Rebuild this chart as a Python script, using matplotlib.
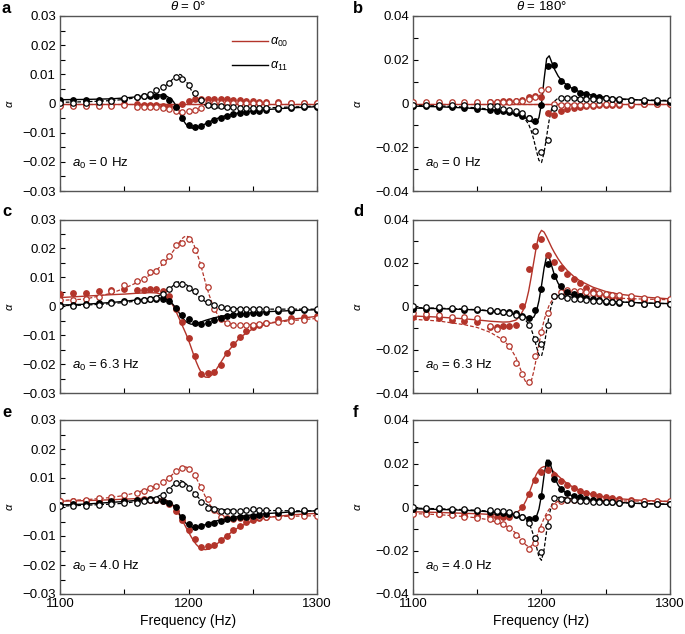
import matplotlib

matplotlib.use("Agg")

import matplotlib.pyplot as plt
from matplotlib.lines import Line2D
from matplotlib.ticker import FuncFormatter, MultipleLocator

plt.rcParams["font.family"] = ["Liberation Sans", "DejaVu Sans"]
plt.rcParams["mathtext.fontset"] = "custom"
plt.rcParams["mathtext.rm"] = "Liberation Sans"
plt.rcParams["mathtext.it"] = "Liberation Sans:italic"
plt.rcParams["mathtext.bf"] = "Liberation Sans:bold"

RED = "#b3342a"
BLACK = "#000000"

# measured frequencies (Hz)
F_MEAS = [1100, 1110, 1120, 1130, 1140, 1150, 1160, 1165, 1170, 1175, 1180, 1185,
          1190, 1195, 1200, 1205, 1210, 1215, 1220, 1225, 1230, 1235, 1240, 1245,
          1250, 1255, 1260, 1270, 1280, 1290, 1300]
# frequencies of the theory curves (Hz)
F_LINE = [1100, 1120, 1140, 1150, 1160, 1170, 1175, 1180, 1183, 1186, 1188, 1190,
          1192, 1194, 1196, 1198, 1200, 1202, 1204, 1206, 1208, 1210, 1213, 1216,
          1220, 1225, 1230, 1240, 1250, 1260, 1280, 1300]

# ---- panel a: theta = 0, a0 = 0 Hz
A_RED_FILLED = [-0.0004, -0.0004, -0.0004, -0.0004, -0.0004, -0.0003, -0.0003, -0.0004, -0.0005, -0.0006,
                -0.0008, -0.0010, -0.0011, -0.0002, 0.0008, 0.0014, 0.0016, 0.0016, 0.0016, 0.0015,
                0.0015, 0.0013, 0.0011, 0.0009, 0.0007, 0.0006, 0.0005, 0.0004, 0.0003, 0.0003, 0.0003]
A_RED_OPEN = [-0.0008, -0.0008, -0.0008, -0.0008, -0.0008, -0.0005, -0.0011, -0.0011, -0.0011, -0.0013,
              -0.0016, -0.0019, -0.0026, -0.0030, -0.0027, -0.0022, -0.0017, 0.0001, 0.0002, 0.0002,
              0.0002, 0.0002, 0.0002, 0.0002, 0.0002, 0.0002, 0.0002, 0.0002, 0.0002, 0.0002, 0.0002]
A_BLACK_FILLED = [0.0012, 0.0012, 0.0012, 0.0012, 0.0013, 0.0017, 0.0022, 0.0025, 0.0027, 0.0027,
                  0.0025, 0.0013, -0.0013, -0.0050, -0.0075, -0.0080, -0.0078, -0.0068, -0.0056, -0.0050,
                  -0.0043, -0.0037, -0.0033, -0.0030, -0.0027, -0.0025, -0.0023, -0.0020, -0.0016, -0.0013, -0.0011]
A_BLACK_OPEN = [0.0003, 0.0003, 0.0003, 0.0004, 0.0010, 0.0019, 0.0023, 0.0027, 0.0031, 0.0046,
                0.0056, 0.0071, 0.0092, 0.0084, 0.0064, 0.0036, 0.0012, -0.0005, -0.0007, -0.0009,
                -0.0011, -0.0013, -0.0015, -0.0016, -0.0017, -0.0017, -0.0016, -0.0015, -0.0013, -0.0010, -0.0009]
A_RED_SOLID = [-0.0002] * 32
A_RED_DASHED = [-0.0002] * 32
A_BLACK_SOLID = [0.0013, 0.0014, 0.0016, 0.0019, 0.0023, 0.0028, 0.0030, 0.0029, 0.0025, 0.0017, 0.0008,
                 -0.0005, -0.0022, -0.0040, -0.0058, -0.0071, -0.0079, -0.0084, -0.0085, -0.0084, -0.0081,
                 -0.0077, -0.0070, -0.0063, -0.0055, -0.0047, -0.0040, -0.0031, -0.0025, -0.0021, -0.0015, -0.0011]
A_BLACK_DASHED = [0.0004, 0.0006, 0.0010, 0.0014, 0.0020, 0.0030, 0.0040, 0.0054, 0.0064, 0.0076, 0.0085,
                  0.0094, 0.0100, 0.0099, 0.0091, 0.0078, 0.0063, 0.0047, 0.0032, 0.0019, 0.0009,
                  0.0001, -0.0006, -0.0010, -0.0014, -0.0016, -0.0017, -0.0017, -0.0016, -0.0015, -0.0012, -0.0009]

# ---- panel b: theta = 180, a0 = 0 Hz
B_RED_FILLED = [-0.0005, -0.0004, -0.0003, -0.0002, 0.0000, 0.0003, 0.0006, 0.0009, 0.0010, 0.0011,
                0.0013, 0.0017, 0.0030, 0.0034, 0.0030, -0.0045, -0.0051, -0.0035, -0.0026, -0.0020,
                -0.0015, -0.0012, -0.0010, -0.0009, -0.0008, -0.0007, -0.0006, -0.0005, -0.0004, -0.0003, -0.0003]
B_RED_OPEN = [0.0009, 0.0008, 0.0008, 0.0008, 0.0008, 0.0008, 0.0006, 0.0006, 0.0007, 0.0008,
              0.0010, 0.0013, 0.0022, 0.0032, 0.0062, 0.0066, 0.0000, -0.0007, -0.0008, -0.0007,
              -0.0006, -0.0005, -0.0005, -0.0004, -0.0004, -0.0003, -0.0003, -0.0003, -0.0002, -0.0001, 0.0000]
B_BLACK_FILLED = [-0.0012, -0.0013, -0.0015, -0.0017, -0.0020, -0.0024, -0.0031, -0.0033, -0.0036, -0.0040,
                  -0.0045, -0.0055, -0.0068, -0.0078, -0.0008, 0.0172, 0.0177, 0.0105, 0.0080, 0.0068,
                  0.0050, 0.0042, 0.0036, 0.0030, 0.0026, 0.0022, 0.0018, 0.0014, 0.0011, 0.0009, 0.0008]
B_BLACK_OPEN = [-0.0008, -0.0008, -0.0008, -0.0008, -0.0009, -0.0010, -0.0010, -0.0013, -0.0025, -0.0028,
                -0.0036, -0.0042, -0.0066, -0.0127, -0.0220, -0.0168, -0.0020, 0.0025, 0.0025, 0.0024,
                0.0021, 0.0020, 0.0019, 0.0018, 0.0025, 0.0020, 0.0019, 0.0016, 0.0015, 0.0015, 0.0014]
B_RED_SOLID = [0.0] * 32
B_RED_DASHED = [0.0] * 32
B_BLACK_SOLID = [-0.0012, -0.0015, -0.0020, -0.0024, -0.0030, -0.0038, -0.0043, -0.0050, -0.0055, -0.0062, -0.0068,
                 -0.0075, -0.0082, -0.0086, -0.0085, -0.0065, 0.0000, 0.0110, 0.0205, 0.0218, 0.0188,
                 0.0158, 0.0125, 0.0103, 0.0083, 0.0065, 0.0053, 0.0037, 0.0028, 0.0022, 0.0015, 0.0011]
B_BLACK_DASHED = [-0.0008, -0.0011, -0.0016, -0.0020, -0.0026, -0.0034, -0.0040, -0.0048, -0.0056, -0.0067, -0.0078,
                  -0.0095, -0.0125, -0.0165, -0.0215, -0.0260, -0.0270, -0.0225, -0.0150, -0.0075, -0.0020,
                  0.0010, 0.0025, 0.0030, 0.0030, 0.0028, 0.0026, 0.0023, 0.0021, 0.0019, 0.0016, 0.0014]

# ---- panel c: theta = 0, a0 = 6.3 Hz
C_RED_FILLED = [0.0043, 0.0047, 0.0047, 0.0053, 0.0055, 0.0059, 0.0056, 0.0057, 0.0059, 0.0058,
                0.0052, 0.0035, -0.0008, -0.0053, -0.0111, -0.0173, -0.0233, -0.0232, -0.0228, -0.0202,
                -0.0163, -0.0129, -0.0105, -0.0084, -0.0071, -0.0065, -0.0059, -0.0045, -0.0041, -0.0036, -0.0033]
C_RED_OPEN = [0.0022, 0.0022, 0.0024, 0.0031, 0.0053, 0.0072, 0.0088, 0.0095, 0.0117, 0.0123,
              0.0154, 0.0173, 0.0212, 0.0218, 0.0234, 0.0194, 0.0143, 0.0066, -0.0010, -0.0045,
              -0.0057, -0.0065, -0.0066, -0.0066, -0.0064, -0.0062, -0.0058, -0.0053, -0.0050, -0.0046, -0.0042]
C_BLACK_FILLED = [0.0006, 0.0006, 0.0008, 0.0010, 0.0015, 0.0019, 0.0022, 0.0023, 0.0025, 0.0026,
                  0.0024, 0.0018, -0.0005, -0.0030, -0.0045, -0.0058, -0.0060, -0.0057, -0.0047, -0.0041,
                  -0.0035, -0.0031, -0.0028, -0.0026, -0.0023, -0.0022, -0.0020, -0.0018, -0.0016, -0.0014, -0.0012]
C_BLACK_OPEN = [0.0002, 0.0002, 0.0004, 0.0006, 0.0010, 0.0013, 0.0017, 0.0020, 0.0024, 0.0028,
                0.0042, 0.0058, 0.0078, 0.0076, 0.0064, 0.0052, 0.0030, 0.0013, 0.0004, -0.0003,
                -0.0006, -0.0008, -0.0009, -0.0010, -0.0010, -0.0010, -0.0010, -0.0010, -0.0010, -0.0010, -0.0010]
C_RED_SOLID = [0.0030, 0.0035, 0.0040, 0.0042, 0.0045, 0.0047, 0.0046, 0.0040, 0.0030, 0.0015, 0.0002,
               -0.0015, -0.0035, -0.0055, -0.0075, -0.0095, -0.0117, -0.0142, -0.0168, -0.0192, -0.0213,
               -0.0230, -0.0245, -0.0246, -0.0230, -0.0195, -0.0160, -0.0108, -0.0078, -0.0062, -0.0045, -0.0035]
C_RED_DASHED = [0.0020, 0.0025, 0.0045, 0.0062, 0.0082, 0.0108, 0.0125, 0.0145, 0.0160, 0.0178, 0.0190,
                0.0203, 0.0216, 0.0228, 0.0238, 0.0243, 0.0240, 0.0230, 0.0215, 0.0190, 0.0165,
                0.0135, 0.0085, 0.0040, -0.0010, -0.0045, -0.0058, -0.0065, -0.0063, -0.0058, -0.0050, -0.0042]
C_BLACK_SOLID = [0.0004, 0.0007, 0.0013, 0.0017, 0.0022, 0.0027, 0.0029, 0.0028, 0.0024, 0.0015, 0.0006,
                 -0.0005, -0.0018, -0.0032, -0.0044, -0.0053, -0.0059, -0.0062, -0.0062, -0.0060, -0.0057,
                 -0.0054, -0.0049, -0.0045, -0.0040, -0.0035, -0.0031, -0.0026, -0.0022, -0.0019, -0.0015, -0.0012]
C_BLACK_DASHED = [0.0002, 0.0004, 0.0009, 0.0013, 0.0018, 0.0026, 0.0033, 0.0043, 0.0052, 0.0063, 0.0071,
                  0.0079, 0.0084, 0.0085, 0.0082, 0.0076, 0.0068, 0.0059, 0.0050, 0.0041, 0.0033,
                  0.0026, 0.0016, 0.0009, 0.0002, -0.0004, -0.0007, -0.0009, -0.0010, -0.0010, -0.0010, -0.0010]

# ---- panel d: theta = 180, a0 = 6.3 Hz
D_RED_FILLED = [-0.0050, -0.0050, -0.0055, -0.0062, -0.0066, -0.0073, -0.0096, -0.0094, -0.0093, -0.0090,
                -0.0085, 0.0003, 0.0173, 0.0278, 0.0311, 0.0238, 0.0205, 0.0176, 0.0149, 0.0126,
                0.0108, 0.0085, 0.0070, 0.0058, 0.0050, 0.0044, 0.0040, 0.0035, 0.0031, 0.0028, 0.0026]
D_RED_OPEN = [-0.0032, -0.0038, -0.0040, -0.0048, -0.0050, -0.0052, -0.0090, -0.0105, -0.0150, -0.0185,
              -0.0262, -0.0313, -0.0350, -0.0229, -0.0118, -0.0030, 0.0049, 0.0068, 0.0074, 0.0072,
              0.0070, 0.0066, 0.0063, 0.0060, 0.0055, 0.0052, 0.0050, 0.0045, 0.0040, 0.0035, 0.0032]
D_BLACK_FILLED = [-0.0012, -0.0012, -0.0013, -0.0014, -0.0015, -0.0016, -0.0020, -0.0022, -0.0025, -0.0028,
                  -0.0032, -0.0045, -0.0055, -0.0017, 0.0080, 0.0195, 0.0140, 0.0095, 0.0068, 0.0055,
                  0.0045, 0.0038, 0.0033, 0.0028, 0.0020, 0.0018, 0.0016, 0.0013, 0.0012, 0.0011, 0.0010]
D_BLACK_OPEN = [0.0000, -0.0002, -0.0005, -0.0008, -0.0010, -0.0012, -0.0017, -0.0020, -0.0025, -0.0032,
                -0.0040, -0.0048, -0.0085, -0.0150, -0.0173, -0.0085, 0.0045, 0.0048, 0.0040, 0.0035,
                0.0032, 0.0028, 0.0026, 0.0025, 0.0022, 0.0020, 0.0018, 0.0015, 0.0012, 0.0011, 0.0010]
D_RED_SOLID = [-0.0045, -0.0050, -0.0058, -0.0063, -0.0069, -0.0073, -0.0072, -0.0064, -0.0048, -0.0015, 0.0020,
               0.0070, 0.0135, 0.0205, 0.0275, 0.0330, 0.0350, 0.0342, 0.0320, 0.0295, 0.0270,
               0.0248, 0.0218, 0.0193, 0.0165, 0.0138, 0.0117, 0.0088, 0.0068, 0.0056, 0.0042, 0.0034]
D_RED_DASHED = [-0.0060, -0.0068, -0.0085, -0.0098, -0.0120, -0.0155, -0.0185, -0.0235, -0.0280, -0.0328, -0.0352,
                -0.0360, -0.0345, -0.0300, -0.0240, -0.0175, -0.0115, -0.0065, -0.0025, 0.0005, 0.0025,
                0.0038, 0.0048, 0.0053, 0.0054, 0.0052, 0.0050, 0.0045, 0.0040, 0.0037, 0.0033, 0.0030]
D_BLACK_SOLID = [-0.0008, -0.0011, -0.0015, -0.0017, -0.0022, -0.0028, -0.0032, -0.0037, -0.0041, -0.0046, -0.0050,
                 -0.0053, -0.0055, -0.0050, -0.0025, 0.0025, 0.0095, 0.0175, 0.0232, 0.0225, 0.0185,
                 0.0145, 0.0105, 0.0080, 0.0062, 0.0048, 0.0040, 0.0030, 0.0024, 0.0020, 0.0015, 0.0012]
D_BLACK_DASHED = [-0.0006, -0.0009, -0.0013, -0.0016, -0.0020, -0.0027, -0.0032, -0.0039, -0.0046, -0.0056, -0.0067,
                  -0.0082, -0.0105, -0.0140, -0.0185, -0.0225, -0.0230, -0.0185, -0.0110, -0.0040, 0.0010,
                  0.0038, 0.0050, 0.0050, 0.0046, 0.0040, 0.0036, 0.0029, 0.0024, 0.0020, 0.0015, 0.0012]

# ---- panel e: theta = 0, a0 = 4.0 Hz
E_RED_FILLED = [0.0019, 0.0019, 0.0021, 0.0022, 0.0025, 0.0025, 0.0025, 0.0027, 0.0025, 0.0025,
                0.0019, 0.0011, -0.0015, -0.0044, -0.0079, -0.0110, -0.0139, -0.0136, -0.0130, -0.0115,
                -0.0099, -0.0081, -0.0065, -0.0053, -0.0044, -0.0038, -0.0033, -0.0030, -0.0027, -0.0024, -0.0022]
E_RED_OPEN = [0.0022, 0.0022, 0.0024, 0.0030, 0.0034, 0.0042, 0.0050, 0.0056, 0.0064, 0.0072,
              0.0085, 0.0100, 0.0125, 0.0134, 0.0130, 0.0110, 0.0068, 0.0028, -0.0010, -0.0033,
              -0.0038, -0.0040, -0.0039, -0.0037, -0.0036, -0.0035, -0.0034, -0.0033, -0.0032, -0.0031, -0.0030]
E_BLACK_FILLED = [0.0008, 0.0009, 0.0011, 0.0015, 0.0019, 0.0022, 0.0024, 0.0024, 0.0027, 0.0025,
                  0.0022, 0.0013, 0.0001, -0.0034, -0.0060, -0.0070, -0.0066, -0.0060, -0.0054, -0.0047,
                  -0.0042, -0.0038, -0.0035, -0.0033, -0.0030, -0.0027, -0.0024, -0.0019, -0.0016, -0.0015, -0.0013]
E_BLACK_OPEN = [0.0002, 0.0002, 0.0004, 0.0008, 0.0011, 0.0013, 0.0015, 0.0019, 0.0025, 0.0028,
                0.0040, 0.0060, 0.0083, 0.0080, 0.0064, 0.0044, 0.0018, -0.0002, -0.0007, -0.0013,
                -0.0013, -0.0013, -0.0013, -0.0012, -0.0006, -0.0010, -0.0010, -0.0011, -0.0012, -0.0012, -0.0013]
E_RED_SOLID = [0.0020, 0.0022, 0.0025, 0.0027, 0.0029, 0.0030, 0.0030, 0.0027, 0.0022, 0.0013, 0.0005,
               -0.0006, -0.0020, -0.0036, -0.0053, -0.0070, -0.0086, -0.0102, -0.0117, -0.0129, -0.0138,
               -0.0144, -0.0147, -0.0145, -0.0135, -0.0117, -0.0098, -0.0067, -0.0048, -0.0037, -0.0027, -0.0022]
E_RED_DASHED = [0.0022, 0.0025, 0.0033, 0.0040, 0.0050, 0.0064, 0.0073, 0.0086, 0.0095, 0.0106, 0.0114,
                0.0122, 0.0130, 0.0135, 0.0138, 0.0138, 0.0134, 0.0126, 0.0115, 0.0100, 0.0083,
                0.0065, 0.0037, 0.0012, -0.0013, -0.0030, -0.0037, -0.0038, -0.0036, -0.0034, -0.0032, -0.0030]
E_BLACK_SOLID = [0.0007, 0.0010, 0.0016, 0.0019, 0.0023, 0.0027, 0.0028, 0.0026, 0.0022, 0.0014, 0.0006,
                 -0.0005, -0.0018, -0.0032, -0.0045, -0.0056, -0.0064, -0.0069, -0.0071, -0.0071, -0.0069,
                 -0.0066, -0.0061, -0.0056, -0.0050, -0.0044, -0.0039, -0.0032, -0.0027, -0.0023, -0.0017, -0.0013]
E_BLACK_DASHED = [0.0003, 0.0006, 0.0010, 0.0013, 0.0019, 0.0027, 0.0034, 0.0045, 0.0054, 0.0066, 0.0075,
                  0.0084, 0.0090, 0.0091, 0.0087, 0.0080, 0.0071, 0.0061, 0.0050, 0.0040, 0.0031,
                  0.0023, 0.0012, 0.0004, -0.0003, -0.0008, -0.0010, -0.0012, -0.0012, -0.0012, -0.0013, -0.0013]

# ---- panel f: theta = 180, a0 = 4.0 Hz
F_RED_FILLED = [-0.0027, -0.0029, -0.0031, -0.0034, -0.0037, -0.0040, -0.0043, -0.0045, -0.0046, -0.0044,
                -0.0030, 0.0000, 0.0060, 0.0125, 0.0160, 0.0168, 0.0145, 0.0118, 0.0100, 0.0087,
                0.0075, 0.0065, 0.0058, 0.0052, 0.0046, 0.0042, 0.0038, 0.0032, 0.0028, 0.0025, 0.0023]
F_RED_OPEN = [-0.0030, -0.0031, -0.0034, -0.0038, -0.0044, -0.0050, -0.0056, -0.0066, -0.0078, -0.0095,
              -0.0128, -0.0155, -0.0192, -0.0165, -0.0100, -0.0045, 0.0005, 0.0028, 0.0032, 0.0032,
              0.0031, 0.0030, 0.0030, 0.0029, 0.0029, 0.0028, 0.0028, 0.0027, 0.0027, 0.0026, 0.0026]
F_BLACK_FILLED = [-0.0008, -0.0010, -0.0011, -0.0013, -0.0015, -0.0017, -0.0021, -0.0023, -0.0026, -0.0030,
                  -0.0036, -0.0045, -0.0056, -0.0052, 0.0050, 0.0203, 0.0130, 0.0082, 0.0064, 0.0052,
                  0.0045, 0.0038, 0.0033, 0.0028, 0.0024, 0.0022, 0.0020, 0.0016, 0.0014, 0.0013, 0.0012]
F_BLACK_OPEN = [0.0000, -0.0003, -0.0006, -0.0008, -0.0010, -0.0012, -0.0014, -0.0017, -0.0019, -0.0025,
                -0.0034, -0.0046, -0.0075, -0.0144, -0.0205, -0.0088, 0.0040, 0.0036, 0.0032, 0.0030,
                0.0028, 0.0026, 0.0025, 0.0024, 0.0023, 0.0022, 0.0020, 0.0018, 0.0015, 0.0013, 0.0012]
F_RED_SOLID = [-0.0022, -0.0025, -0.0029, -0.0031, -0.0034, -0.0036, -0.0035, -0.0028, -0.0015, 0.0008, 0.0030,
               0.0058, 0.0090, 0.0122, 0.0150, 0.0170, 0.0181, 0.0186, 0.0185, 0.0180, 0.0170,
               0.0160, 0.0143, 0.0127, 0.0108, 0.0090, 0.0076, 0.0057, 0.0045, 0.0038, 0.0030, 0.0025]
F_RED_DASHED = [-0.0030, -0.0035, -0.0044, -0.0050, -0.0060, -0.0080, -0.0095, -0.0120, -0.0140, -0.0162, -0.0175,
                -0.0183, -0.0180, -0.0165, -0.0140, -0.0110, -0.0080, -0.0052, -0.0028, -0.0010, 0.0005,
                0.0016, 0.0027, 0.0032, 0.0034, 0.0034, 0.0033, 0.0031, 0.0029, 0.0028, 0.0027, 0.0026]
F_BLACK_SOLID = [-0.0008, -0.0011, -0.0015, -0.0018, -0.0022, -0.0028, -0.0032, -0.0037, -0.0041, -0.0046, -0.0050,
                 -0.0054, -0.0058, -0.0058, -0.0045, -0.0010, 0.0055, 0.0145, 0.0215, 0.0215, 0.0175,
                 0.0138, 0.0100, 0.0078, 0.0061, 0.0049, 0.0041, 0.0031, 0.0025, 0.0021, 0.0015, 0.0012]
F_BLACK_DASHED = [-0.0005, -0.0008, -0.0012, -0.0015, -0.0019, -0.0025, -0.0030, -0.0037, -0.0043, -0.0052, -0.0061,
                  -0.0075, -0.0098, -0.0135, -0.0180, -0.0230, -0.0245, -0.0195, -0.0110, -0.0035, 0.0010,
                  0.0033, 0.0044, 0.0045, 0.0041, 0.0036, 0.0032, 0.0027, 0.0023, 0.0020, 0.0016, 0.0013]

PANELS = [
    # letter, column, row, a0 label, curves, measured points
    ("a", 0, 0, "0", (A_RED_SOLID, A_RED_DASHED, A_BLACK_SOLID, A_BLACK_DASHED),
     (A_RED_FILLED, A_RED_OPEN, A_BLACK_FILLED, A_BLACK_OPEN)),
    ("b", 1, 0, "0", (B_RED_SOLID, B_RED_DASHED, B_BLACK_SOLID, B_BLACK_DASHED),
     (B_RED_FILLED, B_RED_OPEN, B_BLACK_FILLED, B_BLACK_OPEN)),
    ("c", 0, 1, "6.3", (C_RED_SOLID, C_RED_DASHED, C_BLACK_SOLID, C_BLACK_DASHED),
     (C_RED_FILLED, C_RED_OPEN, C_BLACK_FILLED, C_BLACK_OPEN)),
    ("d", 1, 1, "6.3", (D_RED_SOLID, D_RED_DASHED, D_BLACK_SOLID, D_BLACK_DASHED),
     (D_RED_FILLED, D_RED_OPEN, D_BLACK_FILLED, D_BLACK_OPEN)),
    ("e", 0, 2, "4.0", (E_RED_SOLID, E_RED_DASHED, E_BLACK_SOLID, E_BLACK_DASHED),
     (E_RED_FILLED, E_RED_OPEN, E_BLACK_FILLED, E_BLACK_OPEN)),
    ("f", 1, 2, "4.0", (F_RED_SOLID, F_RED_DASHED, F_BLACK_SOLID, F_BLACK_DASHED),
     (F_RED_FILLED, F_RED_OPEN, F_BLACK_FILLED, F_BLACK_OPEN)),
]

W, H = 685, 634
COL_LEFT = [60, 413]
COL_WIDTH = 257
ROW_TOP = [16, 219.5, 420]
ROW_BOTTOM = [191, 393, 594]
DASH = (0, (3.0, 1.6))
MS = 3.9


def _fmt(v, _pos):
    if abs(v) < 1e-9:
        return "0"
    return f"{v:.2f}".replace("-", "\u2212")


fig = plt.figure(figsize=(W / 100, H / 100), dpi=100)

for letter, col, row, a0, lines, dots in PANELS:
    left = COL_LEFT[col] / W
    bottom = 1 - ROW_BOTTOM[row] / H
    height = (ROW_BOTTOM[row] - ROW_TOP[row]) / H
    ax = fig.add_axes([left, bottom, COL_WIDTH / W, height])

    red_solid, red_dashed, black_solid, black_dashed = lines
    red_filled, red_open, black_filled, black_open = dots

    ax.plot(F_LINE, red_dashed, color=RED, lw=0.9, ls=DASH, zorder=2)
    ax.plot(F_LINE, red_solid, color=RED, lw=1.0, zorder=2)
    ax.plot(F_LINE, black_dashed, color=BLACK, lw=0.9, ls=DASH, zorder=2)
    ax.plot(F_LINE, black_solid, color=BLACK, lw=1.0, zorder=2)

    ax.plot(F_MEAS, red_filled, "o", ms=MS, color=RED, mec=RED, zorder=3)
    ax.plot(F_MEAS, red_open, "o", ms=MS, mfc="white", mec=RED, mew=0.9, zorder=3)
    ax.plot(F_MEAS, black_filled, "o", ms=MS, color=BLACK, zorder=4)
    ax.plot(F_MEAS, black_open, "o", ms=MS, mfc="white", mec=BLACK, mew=0.9, zorder=4)

    ax.set_xlim(1100, 1300)
    ax.xaxis.set_major_locator(MultipleLocator(100))
    ax.xaxis.set_minor_locator(MultipleLocator(50))
    if col == 0:
        ax.set_ylim(-0.03, 0.03)
        ax.yaxis.set_major_locator(MultipleLocator(0.01))
        ax.yaxis.set_minor_locator(MultipleLocator(0.005))
    else:
        ax.set_ylim(-0.04, 0.04)
        ax.yaxis.set_major_locator(MultipleLocator(0.02))
        ax.yaxis.set_minor_locator(MultipleLocator(0.01))
    ax.yaxis.set_major_formatter(FuncFormatter(_fmt))

    ax.tick_params(which="both", direction="in", length=3.5, width=0.8,
                   labelsize=9.5, top=False, right=False, pad=3)
    if row < 2:
        ax.tick_params(axis="x", labelbottom=False)
    else:
        ax.set_xlabel("Frequency (Hz)", fontsize=10, labelpad=3)

    for sp in ax.spines.values():
        sp.set_color("#555555")
        sp.set_linewidth(1.0)

    ax.set_ylabel(r"$\alpha$", fontsize=8, labelpad=5 if col == 0 else 9)

    ax.text(0.045, 0.16, rf"$a_0$ = {a0} Hz", transform=ax.transAxes,
            fontsize=9.5, ha="left", va="center")

    fig.text((COL_LEFT[col] - 58 + (0 if col == 0 else -2)) / W,
             1 - (ROW_TOP[row] - 15) / H, letter,
             fontsize=12, fontweight="bold", ha="left", va="top")

    if row == 0:
        ax.set_title(r"$\theta$ = 0°" if col == 0 else r"$\theta$ = 180°",
                     fontsize=9.5, pad=4)

    if letter == "a":
        handles = [Line2D([], [], color=RED, lw=1.0), Line2D([], [], color=BLACK, lw=1.0)]
        ax.legend(handles, [r"$\alpha_{00}$", r"$\alpha_{11}$"], loc="upper left",
                  bbox_to_anchor=(0.625, 0.95), frameon=False, fontsize=9,
                  handlelength=2.9, handletextpad=0.15, labelspacing=0.9)

fig.savefig("out.png", dpi=100)
